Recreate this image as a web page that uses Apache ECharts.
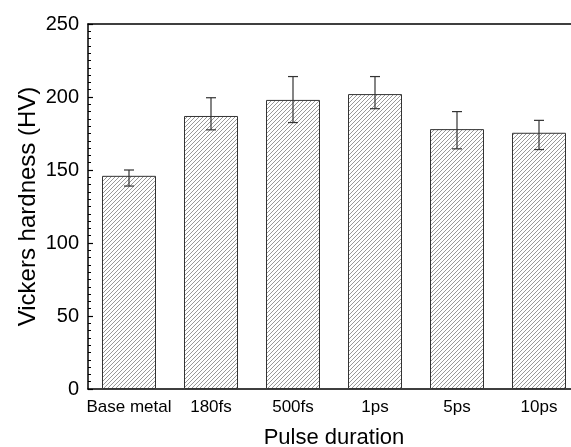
<!DOCTYPE html>
<html><head><meta charset="utf-8">
<script src="https://cdn.jsdelivr.net/npm/echarts@6/dist/echarts.min.js"></script>
<style>html,body{margin:0;padding:0;background:#fff;overflow:hidden}#c{width:571px;height:447px}</style>
</head><body><div id="c"></div>
<script>
var categories = ['Base metal', '180fs', '500fs', '1ps', '5ps', '10ps'];
var hardness = [146, 187, 198, 202, 178, 175.5];
var errLow = [139, 177.5, 182.5, 192, 164.5, 164];
var errHigh = [150, 199.5, 214, 214, 190, 184];
var yTicks = [0, 50, 100, 150, 200, 250];

function hatch() {
  var s = 4, c = document.createElement('canvas');
  c.width = s; c.height = s;
  var g = c.getContext('2d');
  g.fillStyle = '#fff'; g.fillRect(0, 0, s, s);
  g.strokeStyle = '#999'; g.lineWidth = 1;
  g.beginPath();
  g.moveTo(0, s); g.lineTo(s, 0);
  g.moveTo(-1, 1); g.lineTo(1, -1);
  g.moveTo(s - 1, s + 1); g.lineTo(s + 1, s - 1);
  g.stroke();
  return c;
}

var chart = echarts.init(document.getElementById('c'), null, {renderer: 'canvas'});
var font = 'Liberation Sans, Arial, sans-serif';
chart.setOption({
  animation: false,
  grid: {left: 88, width: 492, top: 24, height: 365, outerBoundsMode: 'none', containLabel: false},
  xAxis: [{
    type: 'category', data: categories,
    axisLine: {lineStyle: {color: '#000', width: 1.5}},
    axisTick: {show: false},
    axisLabel: {color: '#000', fontSize: 17, fontFamily: font, margin: 10, interval: 0},
    name: 'Pulse duration', nameLocation: 'middle', nameGap: 38, nameMoveOverlap: false,
    nameTextStyle: {color: '#000', fontSize: 22, fontFamily: font}
  }, {
    type: 'category', data: categories, position: 'top',
    axisLine: {show: true, lineStyle: {color: '#000', width: 1.5}},
    axisTick: {show: false}, axisLabel: {show: false}
  }],
  yAxis: {
    type: 'value', min: yTicks[0], max: yTicks[yTicks.length - 1], interval: 50,
    axisLine: {show: true, lineStyle: {color: '#000', width: 1.5}},
    axisTick: {show: true, inside: true, length: 5, lineStyle: {color: '#000', width: 1.2}},
    minorTick: {show: true, splitNumber: 10, length: 3, lineStyle: {color: '#000', width: 1}},
    splitLine: {show: false},
    axisLabel: {color: '#000', fontSize: 20, fontFamily: font, margin: 9},
    name: 'Vickers hardness (HV)', nameLocation: 'middle', nameGap: 48, nameMoveOverlap: false,
    nameTextStyle: {color: '#000', fontSize: 24, fontFamily: font}
  },
  series: [{
    type: 'bar', data: hardness, barWidth: 54,
    itemStyle: {color: {image: hatch(), repeat: 'repeat'}, borderColor: '#333', borderWidth: 1}
  }, {
    type: 'custom',
    renderItem: function (params, api) {
      var x = api.value(0);
      var lo = api.coord([x, api.value(1)]);
      var hi = api.coord([x, api.value(2)]);
      var w = 5;
      var st = {stroke: '#333', lineWidth: 1.2, fill: null};
      return {type: 'group', children: [
        {type: 'line', shape: {x1: lo[0], y1: lo[1], x2: hi[0], y2: hi[1]}, style: st},
        {type: 'line', shape: {x1: lo[0] - w, y1: lo[1], x2: lo[0] + w, y2: lo[1]}, style: st},
        {type: 'line', shape: {x1: hi[0] - w, y1: hi[1], x2: hi[0] + w, y2: hi[1]}, style: st}
      ]};
    },
    data: categories.map(function (c, i) { return [i, errLow[i], errHigh[i]]; }),
    z: 5
  }]
});
</script></body></html>
